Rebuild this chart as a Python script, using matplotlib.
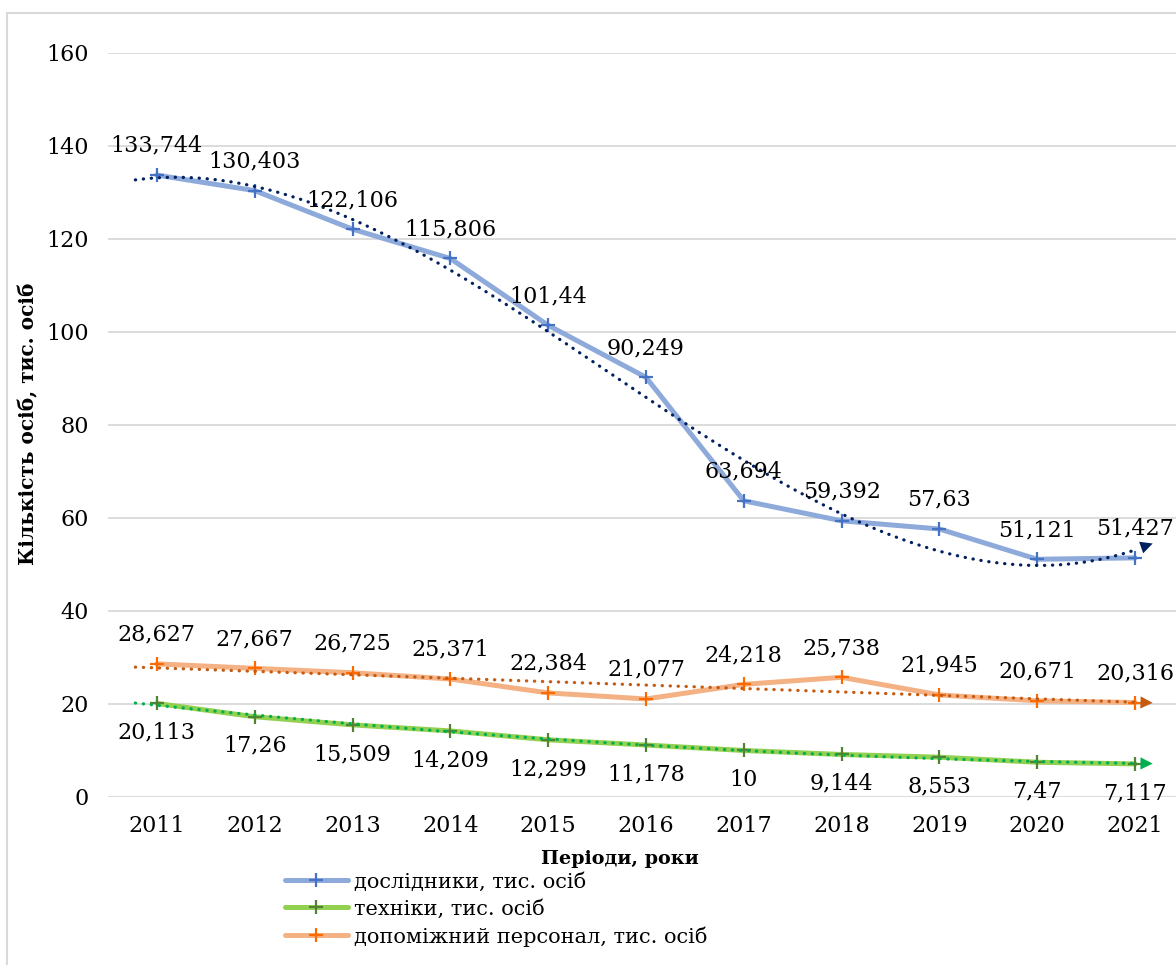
import numpy as np
import matplotlib
matplotlib.use('Agg')
import matplotlib.pyplot as plt
from matplotlib.patches import Rectangle

plt.rcParams['font.family'] = ['DejaVu Serif']

# data (thousand persons)
years = [2011, 2012, 2013, 2014, 2015, 2016, 2017, 2018, 2019, 2020, 2021]
researchers = [133.744, 130.403, 122.106, 115.806, 101.44, 90.249, 63.694, 59.392, 57.63, 51.121, 51.427]
technicians = [20.113, 17.26, 15.509, 14.209, 12.299, 11.178, 10.0, 9.144, 8.553, 7.47, 7.117]
auxiliary = [28.627, 27.667, 26.725, 25.371, 22.384, 21.077, 24.218, 25.738, 21.945, 20.671, 20.316]

names = ['дослідники, тис. осіб', 'техніки, тис. осіб', 'допоміжний персонал, тис. осіб']
yticks = [0, 20, 40, 60, 80, 100, 120, 140, 160]


def fmt(v):
    return ('%g' % v).replace('.', ',')


fig = plt.figure(figsize=(11.76, 9.65), dpi=100)
ax = fig.add_axes([0.0918, 0.1741, 0.915, 0.771])

x = np.array(years, dtype=float)

# values, line colour, marker colour, trend colour, trend degree, label side
series = [
    (researchers, '#8eaadb', '#4472c4', '#002060', 3, 'above'),
    (technicians, '#92d050', '#548235', '#00b050', 2, 'below'),
    (auxiliary, '#f4b183', '#ff6a00', '#c55a11', 1, 'above'),
]

handles = []
for (vals, lc, mc, tc, deg, pos), nm in zip(series, names):
    h, = ax.plot(x, vals, color=lc, lw=3.6, marker='+', ms=10, mew=1.6,
                 mec=mc, mfc=mc, solid_capstyle='round', solid_joinstyle='round',
                 label=nm, zorder=2)
    handles.append(h)

    # trendline
    coef = np.polyfit(x - 2011, vals, deg)
    xt = np.linspace(2010.78, 2021.18, 200)
    yt = np.polyval(coef, xt - 2011)
    ax.plot(xt[:-3], yt[:-3], color=tc, lw=2.3, ls=(0, (0.1, 2.4)),
            dash_capstyle='round', zorder=3)
    ax.annotate('', xy=(xt[-1], yt[-1]), xytext=(xt[-6], yt[-6]),
                arrowprops=dict(arrowstyle='-|>', color=tc, lw=0,
                                mutation_scale=22, shrinkA=0, shrinkB=0),
                zorder=3)

    for xi, v in zip(x, vals):
        off = 21 if pos == 'above' else -21
        ax.annotate(fmt(v), (xi, v), xytext=(0, off), textcoords='offset points',
                    ha='center', va='center', fontsize=16, zorder=5)

ax.set_xlim(2010.5, 2021.5)
ax.set_ylim(0, 160)
ax.set_yticks(yticks)
ax.set_xticks(years)
ax.set_xticklabels([str(y) for y in years])
ax.tick_params(axis='both', length=0, labelsize=16)
ax.tick_params(axis='y', pad=14)
ax.tick_params(axis='x', pad=13)
ax.grid(axis='y', color='#d9d9d9', lw=1.3)
ax.set_axisbelow(True)
for s in ax.spines.values():
    s.set_visible(False)

fig.text(28 / 1176, 1 - 424 / 965, 'Кількість осіб, тис. осіб', rotation=90,
         ha='center', va='center', fontsize=14.5, fontweight='bold')
fig.text(620 / 1176, 1 - 859 / 965, 'Періоди, роки', ha='center', va='center',
         fontsize=13.8, fontweight='bold')

fig.legend(handles=handles, loc='upper left', bbox_to_anchor=(285 / 1176, 1 - 872 / 965),
           frameon=False, fontsize=15, handlelength=3.0, handletextpad=0.3,
           labelspacing=0.36, borderaxespad=0, borderpad=0)

fig.patches.append(Rectangle((7 / 1176, -0.1), 1.2, 1.1 - 13 / 965,
                             transform=fig.transFigure, fill=False,
                             edgecolor='#d9d9d9', lw=1.5))

fig.savefig('out.png', dpi=100)
